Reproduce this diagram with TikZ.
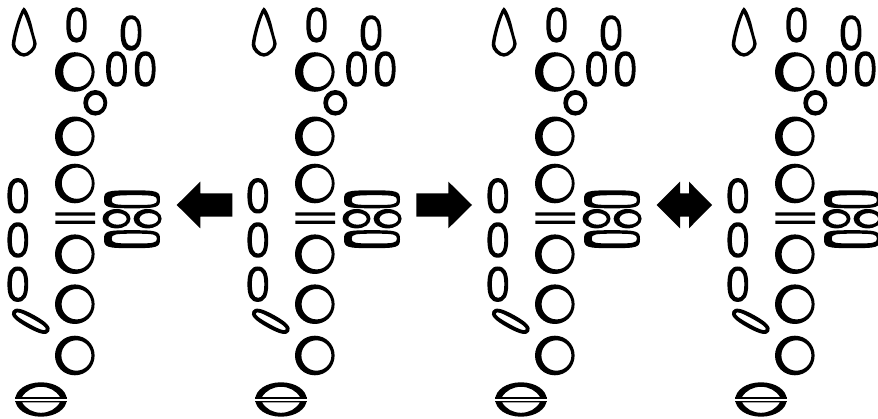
\documentclass[tikz,border=0pt]{standalone}
\newcommand{\ovalp}[5]{({#1-#3},{#2}) .. controls ({#1-#3},{#2-#5*#4}) and ({#1-#5*#3},{#2-#4}) .. ({#1},{#2-#4}) .. controls ({#1+#5*#3},{#2-#4}) and ({#1+#3},{#2-#5*#4}) .. ({#1+#3},{#2}) .. controls ({#1+#3},{#2+#5*#4}) and ({#1+#5*#3},{#2+#4}) .. ({#1},{#2+#4}) .. controls ({#1-#5*#3},{#2+#4}) and ({#1-#3},{#2+#5*#4}) .. ({#1-#3},{#2}) -- cycle}
\newcommand{\ring}[8]{\fill[even odd rule] \ovalp{#1}{#2}{#3}{#4}{0.56} \ovalp{#1+#7}{#2+#8}{#5}{#6}{0.56};}
\newcommand{\oring}[8]{\fill[even odd rule] \ovalp{#1}{#2}{#3}{#4}{0.68} \ovalp{#1+#7}{#2+#8}{#5}{#6}{0.68};}
\tikzset{
  keyset/.pic={
    % teardrop
    \fill[even odd rule] (23.7,7.3) .. controls (27,9) and (31,20) .. (33,30) .. controls (34.5,37) and (36.7,42) .. (36.7,44)
       .. controls (36.7,50) and (29,56.7) .. (24,56.7) .. controls (18,56.7) and (11.7,50) .. (11.7,45) .. controls (11.7,38) and (19,12) .. (23.7,7.3) -- cycle
       (23.7,13.3) .. controls (21,18) and (15.3,38) .. (15.3,44.5) .. controls (15.3,48) and (20.5,53.3) .. (24,53.3) .. controls (27.5,53.3) and (33.3,48) .. (33.3,44) .. controls (33.3,40) and (27,20) .. (23.7,13.3) -- cycle;
    % upper small ovals
    \oring{76.5}{25}{10.2}{17.7}{6.3}{13.4}{0.3}{-0.5}
    \oring{131}{33}{10.4}{17.7}{6.4}{13.4}{0.4}{-0.5}
    \oring{116.5}{69}{10.4}{17.7}{6.2}{13.4}{0.4}{0}
    \oring{145.2}{69}{10.4}{17.7}{6.2}{13.4}{0.4}{0}
    % large rings
    \ring{74.8}{72}{19.8}{19.8}{14.2}{15.4}{2.6}{-0.3}
    \ring{74.8}{136.3}{19.8}{19.8}{14.5}{15.2}{2.3}{0}
    \ring{74.8}{183.5}{19.8}{19.8}{15}{15.6}{2}{-0.3}
    \ring{74.8}{254.2}{19.8}{19.8}{15}{15.2}{1.8}{0}
    \ring{74.8}{304.2}{19.8}{19.8}{15}{15.2}{1.8}{0}
    \ring{74.8}{355.5}{19.8}{19.8}{15}{15.2}{1.6}{0}
    % small ring
    \ring{95.3}{102.8}{12}{12.8}{7.7}{8.2}{0.4}{0.2}
    % double bar
    \fill (55.3,212.3) rectangle (95,215.7) (55.3,220.7) rectangle (95,224);
    % left column
    \oring{17.8}{195.8}{10.4}{17.7}{6.2}{13.6}{0.3}{0}
    \oring{17.8}{240}{10.4}{17.7}{6.2}{13.6}{0.3}{0}
    \oring{17.8}{284.2}{10.4}{17.7}{6.2}{13.6}{0.3}{0}
    % slanted key
    \begin{scope}[shift={(30.8,321.3)},rotate=-29]
      \fill[even odd rule] \ovalp{0}{0}{21}{7}{0.7} \ovalp{0}{0}{17}{3}{0.7};
    \end{scope}
    % side keys
    \fill[even odd rule] \ovalp{132}{199.3}{28}{9}{0.9} \ovalp{134.3}{200.1}{22.6}{4.9}{0.88};
    \fill[even odd rule] \ovalp{132}{239.2}{28}{9}{0.9} \ovalp{134.3}{238.6}{22.6}{4.9}{0.88};
    \ring{116.5}{218.7}{14}{9.7}{9.2}{5.8}{1}{0.2}
    \ring{147.6}{218.7}{14}{9.7}{9.4}{5.8}{1.2}{0.2}
    % bottom key
    \fill[even odd rule] \ovalp{41}{399.5}{25.7}{17.2}{0.56}
       (22,397) .. controls (26,390.5) and (33,386.8) .. (41,386.8) .. controls (49,386.8) and (56,390.5) .. (60,397) -- cycle
       (22,402.3) .. controls (26,409) and (33,412.8) .. (41,412.8) .. controls (49,412.8) and (56,409) .. (60,402.3) -- cycle;
    \fill (15.3,397) rectangle (66.7,402.3);
    \fill[white] (14,399) rectangle (68,400.5);
  }
}
\begin{document}
\begin{tikzpicture}[x=1pt,y=-1pt]
\useasboundingbox (0,0) rectangle (878,419);
\path (0,0) pic {keyset} (240,0) pic {keyset} (480,0) pic {keyset} (720,0) pic {keyset};
\fill (176.7,205) -- (200.3,181.7) -- (200.3,193.3) -- (232.3,193.3) -- (232.3,216.7) -- (200.3,216.7) -- (200.3,228.3) -- cycle;
\fill (472,205) -- (448.4,181.7) -- (448.4,193.3) -- (416.4,193.3) -- (416.4,216.7) -- (448.4,216.7) -- (448.4,228.3) -- cycle;
\fill (656.7,205) -- (680,181.7) -- (680,193.3) -- (689,193.3) -- (689,181.7) -- (712,205) -- (689,228.3) -- (689,216.7) -- (680,216.7) -- (680,228.3) -- cycle;
\end{tikzpicture}
\end{document}
